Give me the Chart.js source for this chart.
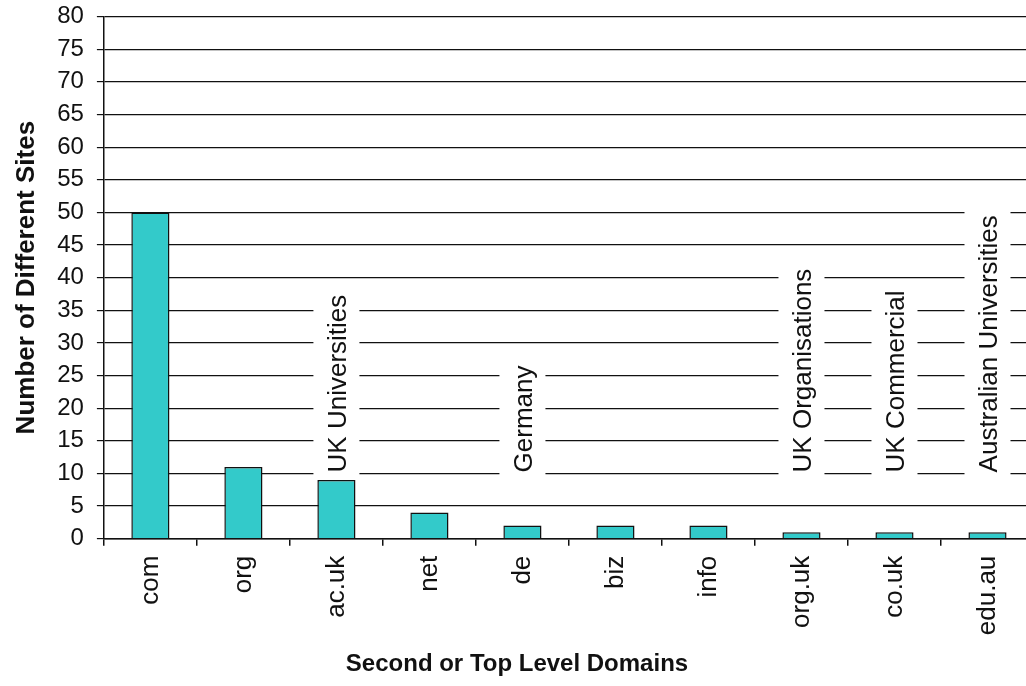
<!DOCTYPE html>
<html lang="en">
<head>
    <meta charset="UTF-8">
    <title>Second or Top Level Domains</title>
    <script src="https://cdn.jsdelivr.net/npm/chart.js"></script>
    <style>
        html, body { margin: 0; padding: 0; overflow: hidden; background: #fff; }
    </style>
</head>
<body>
    <canvas id="domainChart" width="1066" height="686"></canvas>
    <script>
        const domains = ['com', 'org', 'ac.uk', 'net', 'de', 'biz', 'info', 'org.uk', 'co.uk', 'edu.au'];
        const siteCounts = [50, 11, 9, 4, 2, 2, 2, 1, 1, 1];
        const domainNotes = ['', '', 'UK Universities', '', 'Germany', '', '', 'UK Organisations', 'UK Commercial', 'Australian Universities'];
        const yMin = 0;
        const yMax = 80;
        const yStep = 5;
        const noteBaseValue = 10;

        // vertical captions over the gridlines, each on a white patch
        const domainNotesPlugin = {
            id: 'domainNotes',
            afterDatasetsDraw(chart) {
                const ctx = chart.ctx;
                const x = chart.scales.x;
                const y = chart.scales.y;
                const size = 26;
                ctx.save();
                ctx.font = size + 'px "Liberation Sans", Arial, sans-serif';
                domainNotes.forEach((note, i) => {
                    if (!note) return;
                    const cx = x.getPixelForValue(i);
                    const bottom = y.getPixelForValue(noteBaseValue) + 3;
                    const len = ctx.measureText(note).width;
                    ctx.fillStyle = '#fff';
                    ctx.fillRect(cx - 23, bottom - len - 12, 46, len + 12);
                    ctx.translate(cx + size * 0.36, bottom - 4);
                    ctx.rotate(-Math.PI / 2);
                    ctx.fillStyle = '#111';
                    ctx.textAlign = 'left';
                    ctx.textBaseline = 'alphabetic';
                    ctx.fillText(note, 0, 0);
                    ctx.setTransform(1, 0, 0, 1, 0, 0);
                });
                ctx.restore();
            }
        };

        const ctx = document.getElementById('domainChart').getContext('2d');
        const domainChart = new Chart(ctx, {
            type: 'bar',
            data: {
                labels: domains,
                datasets: [{
                    data: siteCounts,
                    backgroundColor: '#33CACA',
                    borderColor: '#111',
                    borderWidth: 1.5,
                    barPercentage: 0.41,
                    categoryPercentage: 1
                }]
            },
            options: {
                responsive: false,
                animation: false,
                layout: { padding: { top: 0, right: 32, left: 0, bottom: 0 } },
                plugins: {
                    legend: { display: false },
                    tooltip: { enabled: false },
                    title: {
                        display: true,
                        position: 'bottom',
                        text: 'Second or Top Level Domains',
                        color: '#111',
                        font: { family: '"Liberation Sans", Arial, sans-serif', size: 24, weight: 'bold' },
                        padding: { top: 5, bottom: 7 }
                    }
                },
                scales: {
                    x: {
                        offset: true,
                        grid: {
                            drawOnChartArea: false,
                            drawTicks: true,
                            tickLength: 7,
                            color: '#111',
                            lineWidth: 1.5
                        },
                        border: { display: true, color: '#111', width: 1.5 },
                        ticks: {
                            autoSkip: false,
                            minRotation: 90,
                            maxRotation: 90,
                            padding: 10,
                            color: '#111',
                            font: { family: '"Liberation Sans", Arial, sans-serif', size: 26 }
                        }
                    },
                    y: {
                        min: yMin,
                        max: yMax,
                        grid: {
                            color: '#111',
                            lineWidth: 1.2,
                            tickLength: 7
                        },
                        border: { display: true, color: '#111', width: 1.5 },
                        ticks: {
                            stepSize: yStep,
                            autoSkip: false,
                            padding: 13,
                            color: '#111',
                            font: { family: '"Liberation Sans", Arial, sans-serif', size: 24, lineHeight: 0.3 }
                        },
                        title: {
                            display: true,
                            text: 'Number of Different Sites',
                            color: '#111',
                            font: { family: '"Liberation Sans", Arial, sans-serif', size: 26, weight: 'bold' },
                            padding: { top: 11, bottom: 2 }
                        }
                    }
                }
            },
            plugins: [domainNotesPlugin]
        });
    </script>
</body>
</html>
